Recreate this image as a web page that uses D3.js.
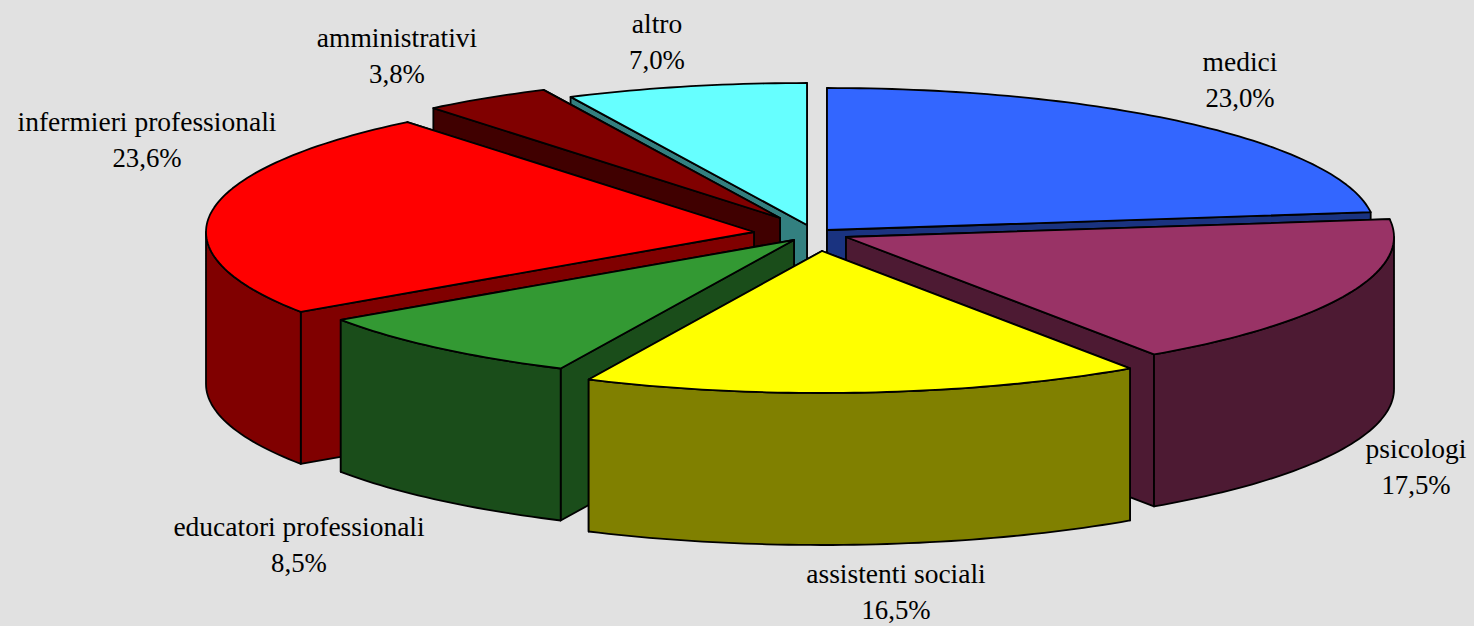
<!DOCTYPE html>
<html>
<head>
<meta charset="utf-8">
<script src="https://cdn.jsdelivr.net/npm/d3@7/dist/d3.min.js"></script>
<style>
html,body{margin:0;padding:0;background:#e1e1e1;overflow:hidden}
svg{display:block}
text{font-family:"Liberation Serif","Times New Roman",serif;font-size:27.5px;fill:#000}
tspan.pct{font-size:26.8px}
</style>
</head>
<body>
<svg id="chart" width="1474" height="626"></svg>
<script>
// Data, clockwise from 12 o'clock
const categories = ["medici","psicologi","assistenti sociali","educatori professionali","infermieri professionali","amministrativi","altro"];
const percentages = [23.0,17.5,16.5,8.5,23.6,3.8,7.0];

// Styles
const topColors  = ["#3366ff","#993366","#ffff00","#339933","#ff0000","#800000","#66ffff"];
const wallColors = ["#1a3380","#4d1a33","#808000","#1a4d1a","#800000","#400000","#338080"];

// Layout
const width = 1474, height = 626;
const center = [800, 235];
const radiusX = 548, radiusY = 142, depth = 152;
const explodeOffsets = [[27,-5],[46,2],[22,16],[-6,5],[-46,-3],[-20,-17],[7,-10]];
const labelAnchors = [[1240,71],[1416,458],[896,583],[299,536],[147,131],[397,47],[657,33]];
const lineStep = 35.5;
const paintOrder = [0,6,5,4,1,3,2];

const svg = d3.select("#chart");
const sx = d3.scaleLinear().domain([-1,1]).range([-radiusX,radiusX]);
const sy = d3.scaleLinear().domain([-1,1]).range([-radiusY,radiusY]);
const px = a => sx(Math.sin(a));
const py = a => sy(-Math.cos(a));

// The rounded percentages sum to 99.9: keep their true share, and let the last slice close the circle
const arcs = d3.pie().sort(null).startAngle(0).endAngle(2*Math.PI*d3.sum(percentages)/100)(percentages);
arcs[arcs.length-1].endAngle = 2*Math.PI;
const path = d3.line();

function rim(a0, a1, dz){
  const n = Math.max(2, Math.ceil((a1-a0)/0.02));
  return d3.range(n+1).map(i => {
    const a = a0 + (a1-a0)*i/n;
    return [px(a), py(a)+dz];
  });
}
function sideWall(a){
  return [[0,0],[px(a),py(a)],[px(a),py(a)+depth],[0,depth]];
}

const g = svg.selectAll("g.slice").data(paintOrder).join("g")
  .attr("class","slice")
  .attr("transform", i => `translate(${center[0]+explodeOffsets[i][0]},${center[1]+explodeOffsets[i][1]})`)
  .attr("stroke","#000").attr("stroke-width",1.8).attr("stroke-linejoin","round");

g.each(function(i){
  const sel = d3.select(this), s = arcs[i];
  const mid = (s.startAngle+s.endAngle)/2;
  // hidden wall first, visible wall after it
  const walls = Math.sin(mid) > 0 ? [s.startAngle,s.endAngle] : [s.endAngle,s.startAngle];
  walls.forEach(a => sel.append("path").attr("d", path(sideWall(a))+"Z").attr("fill", wallColors[i]));
  const a0 = Math.max(s.startAngle, Math.PI/2), a1 = Math.min(s.endAngle, 3*Math.PI/2);
  if (a1 > a0) {
    const pts = rim(a0,a1,0).concat(rim(a0,a1,depth).reverse());
    sel.append("path").attr("d", path(pts)+"Z").attr("fill", wallColors[i]);
  }
  const topPts = [[0,0]].concat(rim(s.startAngle,s.endAngle,0));
  sel.append("path").attr("d", path(topPts)+"Z").attr("fill", topColors[i]);
});

const fmt = v => v.toFixed(1).replace(".",",") + "%";
svg.selectAll("text.label").data(categories).join("text")
  .attr("class","label").attr("text-anchor","middle")
  .attr("transform",(d,i)=>`translate(${labelAnchors[i][0]},${labelAnchors[i][1]})`)
  .each(function(d,i){
    const t = d3.select(this);
    t.append("tspan").attr("x",0).attr("y",0).text(d);
    t.append("tspan").attr("class","pct").attr("x",0).attr("y",lineStep).text(fmt(percentages[i]));
  });
</script>
</body>
</html>
